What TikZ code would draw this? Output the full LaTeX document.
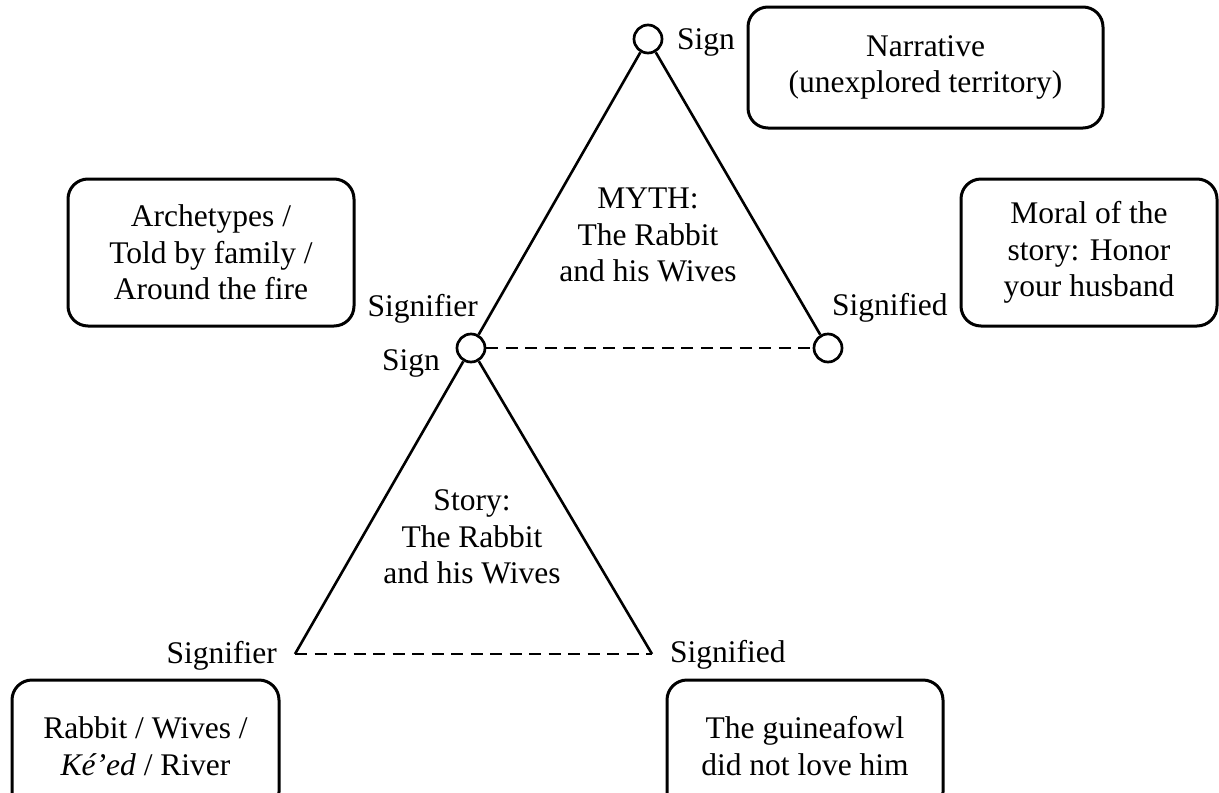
\documentclass[tikz,border=0pt]{standalone}
\usepackage{fontspec}
\setmainfont{Liberation Serif}
\begin{document}
\begin{tikzpicture}[x=1pt,y=-1pt,
  txt/.style={font=\fontsize{31.5}{36.5}\selectfont, inner sep=0pt, align=center},
  box/.style={draw, line width=3pt, rounded corners=20pt, inner sep=0pt,
              font=\fontsize{31.5}{36.5}\selectfont, align=center},
  dot/.style={circle, draw, line width=2.7pt, minimum size=28pt, inner sep=0pt},
  edge/.style={line width=2.6pt},
  dline/.style={line width=2.6pt, dash pattern=on 12pt off 7.5pt}]
\useasboundingbox (0,0) rectangle (1219,793);
\clip (0,0) rectangle (1219,793);
\fill[white] (0,0) rectangle (1219,793);

% circles
\node[dot] (T) at (648,39) {};
\node[dot] (M) at (471,348) {};
\node[dot] (R) at (828,348) {};
\coordinate (LL) at (295,654);
\coordinate (LR) at (652,654);

% connectors
\draw[edge] (T) -- (M);
\draw[edge] (T) -- (R);
\draw[dline] (M) -- (R);
\draw[edge] (M) -- (LL);
\draw[edge] (M) -- (LR);
\draw[dline] (LL) -- (LR);

% labels
\node[txt, anchor=base west] (lsignT) at (677,49) {Sign};
\node[txt, anchor=base east] (lsfrU) at (478,316) {Signifier};
\node[txt, anchor=base east] (lsignM) at (440,370) {Sign};
\node[txt, anchor=base west] (lsfdU) at (832,315) {Signified};
\node[txt, anchor=base east] (lsfrL) at (277,663) {Signifier};
\node[txt, anchor=base west] (lsfdL) at (670,662) {Signified};

% triangle texts
\node[txt] (myth) at (648,235) {MYTH:\\The Rabbit\\and his Wives};
\node[txt] (story) at (472,537) {Story:\\The Rabbit\\and his Wives};

% boxes
\node[box, minimum width=355pt, minimum height=121pt] (narr) at (925.5,67.5)
  {Narrative\\(unexplored territory)};
\node[box, minimum width=286pt, minimum height=147pt] (arch) at (211,252.5)
  {Archetypes /\\Told by family /\\Around the fire};
\node[box, minimum width=256pt, minimum height=147pt] (moral) at (1089,252.5)
  {Moral of the\\story: Honor\\your husband};
\node[box, minimum width=267pt, minimum height=132pt] (rabbit) at (145.5,746)
  {Rabbit / Wives /\\\textit{Ké’ed} / River};
\node[box, minimum width=276pt, minimum height=132pt] (guinea) at (805,746)
  {The guineafowl\\did not love him};
\end{tikzpicture}
\end{document}
